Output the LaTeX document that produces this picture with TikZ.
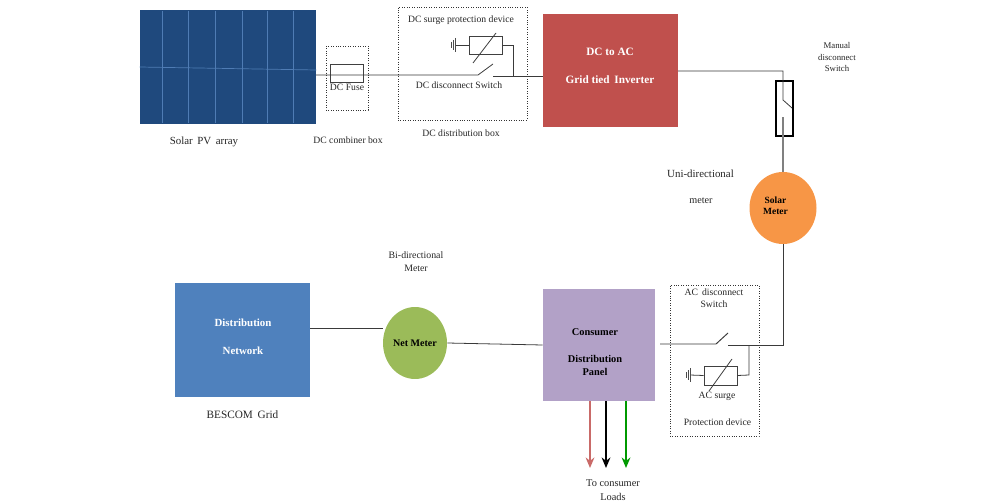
\documentclass[tikz,border=0pt]{standalone}
\usepackage{fontspec}
\setmainfont{Liberation Serif}
\definecolor{pvblue}{HTML}{1F497D}
\definecolor{pvline}{HTML}{4F7CB4}
\definecolor{invred}{HTML}{C0504D}
\definecolor{panelpurple}{HTML}{B2A1C7}
\definecolor{gridblue}{HTML}{4F81BD}
\definecolor{netgreen}{HTML}{9BBB59}
\definecolor{solarorange}{HTML}{F79646}
\definecolor{wire}{HTML}{3A3A3A}
\tikzset{
    blockbox/.style={draw=none, inner sep=0pt, text=white, font=\fontsize{6}{7}\selectfont\bfseries, align=center},
    meter/.style={ellipse, inner sep=0pt, font=\fontsize{5.7}{6.4}\selectfont\bfseries, align=center},
    dashbox/.style={draw=black!80, densely dotted, inner sep=0pt},
    partbox/.style={draw=black!75, inner sep=0pt, line width=0.5pt},
    caption/.style={inner sep=0pt, text=black!85, font=\fontsize{5.5}{7}\selectfont, align=center},
    wireline/.style={draw=wire, line width=0.45pt},
    loadarrow/.style={-{Stealth[length=6pt,width=5pt]}, line width=0.9pt}
}
\usetikzlibrary{shapes.geometric, arrows.meta}
\begin{document}
\begin{tikzpicture}[x=0.02cm, y=-0.02cm]
    \useasboundingbox (0,0) rectangle (1000,500);

    % PV array
    \node[blockbox, fill=pvblue, minimum width=3.52cm, minimum height=2.28cm] (pv) at (228,67) {};
    \foreach \px in {162,188,215,242,267,293} {
        \draw[pvline, line width=0.4pt] (\px,11) -- (\px,123);
    }
    \draw[pvline, line width=0.4pt] (pv.west) -- (pv.east |- 0,70);
    \node[caption, font=\fontsize{6.2}{7}\selectfont] (pvlabel) at (204,142) {Solar\, PV\, array};

    % DC side boxes
    \node[dashbox, minimum width=0.84cm, minimum height=1.28cm] (combiner) at (347,78) {};
    \node[partbox, minimum width=0.66cm, minimum height=0.36cm] (fuse) at (346.5,73) {};
    \node[caption] (fuselabel) at (347,87) {DC Fuse};
    \node[caption] (combinerlabel) at (348,140) {DC combiner box};
    \node[dashbox, minimum width=2.58cm, minimum height=2.26cm] (dcbox) at (462.5,63.5) {};
    \node[caption] (dcsurgelabel) at (461,20) {DC surge protection device};
    \node[caption] (dcswitchlabel) at (459,85) {DC disconnect Switch};
    \node[caption] (dcboxlabel) at (461,133) {DC distribution box};
    \node[partbox, minimum width=0.66cm, minimum height=0.36cm] (dcsurge) at (485.5,45) {};

    % inverter
    \node[blockbox, fill=invred, minimum width=2.7cm, minimum height=2.26cm] (inverter) at (610.5,70.5) {};
    \node[inner sep=0pt, text=white, font=\fontsize{6.4}{7}\selectfont\bfseries] (invtop) at (610,52) {DC to AC};
    \node[inner sep=0pt, text=white, font=\fontsize{6.4}{7}\selectfont\bfseries] (invbottom) at (610,80) {Grid tied\, Inverter};

    % manual switch and solar meter
    \node[draw=black, line width=0.7pt, inner sep=0pt, minimum width=0.34cm, minimum height=1.1cm] (manual) at (784.5,108.5) {};
    \node[caption, font=\fontsize{5}{6.4}\selectfont] (manuallabel) at (837,57) {Manual\\disconnect\\Switch};
    \node[meter, fill=solarorange, minimum width=1.34cm, minimum height=1.44cm] (solar) at (783,208) {};
    \node[inner sep=0pt, font=\fontsize{5.4}{6.4}\selectfont\bfseries, align=center] (solarlabel) at (775.5,206) {Solar\\Meter};
    \node[caption, font=\fontsize{6.2}{7}\selectfont] (unilabel) at (700.5,174) {Uni-directional};
    \node[caption, font=\fontsize{5.8}{7}\selectfont] (meterlabel) at (701,200.5) {meter};

    % lower row
    \node[blockbox, fill=gridblue, minimum width=2.7cm, minimum height=2.28cm] (network) at (242.5,340) {};
    \node[inner sep=0pt, text=white, font=\fontsize{6.2}{7}\selectfont\bfseries] (nettop) at (243,323) {Distribution};
    \node[inner sep=0pt, text=white, font=\fontsize{6.2}{7}\selectfont\bfseries] (netbottom) at (243,351) {Network};
    \node[caption, font=\fontsize{6.4}{7}\selectfont] (gridlabel) at (242.5,415) {BESCOM\, Grid};
    \node[meter, fill=netgreen, minimum width=1.28cm, minimum height=1.44cm] (net) at (415,343) {Net Meter};
    \node[caption, font=\fontsize{5.6}{7.4}\selectfont] (bilabel) at (416,262) {Bi-directional\\Meter};
    \node[blockbox, fill=panelpurple, minimum width=2.24cm, minimum height=2.24cm] (panel) at (599,345) {};
    \node[inner sep=0pt, font=\fontsize{5.9}{7.6}\selectfont\bfseries, align=center] (panellabel) at (595,352) {Consumer\\[8pt]Distribution\\Panel};

    % AC side
    \node[dashbox, minimum width=1.78cm, minimum height=3.02cm] (acbox) at (714.5,360.5) {};
    \node[caption] (acswitchlabel) at (714,298.5) {AC\, disconnect\\Switch};
    \node[partbox, minimum width=0.66cm, minimum height=0.38cm] (acsurge) at (720.5,375.5) {};
    \node[caption] (acsurgelabel) at (717,396) {AC surge};
    \node[caption] (aclabel) at (717.5,422) {Protection device};

    \node[caption, font=\fontsize{5.9}{8}\selectfont] (loadlabel) at (613,490) {To consumer\\Loads};

    % free ends of the wires
    \coordinate (pvout) at (316,75);
    \coordinate (dcopen) at (478,75);
    \coordinate (dcblade) at (493,64);
    \coordinate (dcclose) at (493,76);
    \coordinate (dcjoin) at (513,76);
    \coordinate (dcturn) at (513,45);
    \coordinate (invout) at (678,71);
    \coordinate (manturn) at (783,71);
    \coordinate (manopen) at (783,100);
    \coordinate (manblade) at (792,108);
    \coordinate (manclose) at (783,117);
    \coordinate (acstart) at (660,344);
    \coordinate (acopen) at (716,344);
    \coordinate (acblade) at (728,333);
    \coordinate (acclose) at (728,345);
    \coordinate (acjoin) at (749,345);
    \coordinate (acturn) at (783,345);
    \coordinate (acdrop) at (749,375);
    \coordinate (dcgnd) at (455,45);
    \coordinate (acgnd) at (690,375);

    % wires
    \draw[wireline] (pvout) -- (dcopen) -- (dcblade);
    \draw[wireline] (dcclose) -- (inverter.west |- dcclose);
    \draw[wireline] (dcjoin) -- (dcturn) -- (dcsurge.east);
    \draw[wireline] (dcsurge.west) -- (dcgnd);
    \draw[wireline] (invout) -- (manturn) -- (manopen) -- (manblade);
    \draw[wireline, draw=black!50, line width=0.6pt] (manclose) -- (solar.north);
    \draw[wireline] (solar.south) -- (acturn) -- (acclose);
    \draw[wireline, line width=0.55pt] (acstart) -- (acopen) -- (acblade);
    \draw[wireline] (acjoin) -- (acdrop) -- (acsurge.east);
    \draw[wireline] (acsurge.west) -- (acgnd);
    \draw[wireline] (network.east |- 0,328) -- (net.west |- 0,328);
    \draw[wireline] (net.east) -- (panel.west);

    % slashes through the surge devices
    \draw[wireline] ([shift={(-12.5,18)}]dcsurge.center) -- ([shift={(10.5,-12)}]dcsurge.center);
    \draw[wireline] ([shift={(-11.5,15.5)}]acsurge.center) -- ([shift={(11.5,-16.5)}]acsurge.center);

    % earth marks
    \foreach \gnd in {dcgnd, acgnd} {
        \draw[black!70, line width=0.35pt] ([shift={(0,-7)}]\gnd) -- ([shift={(0,7)}]\gnd);
        \draw[black!70, line width=0.35pt] ([shift={(-2,-5)}]\gnd) -- ([shift={(-2,5)}]\gnd);
        \draw[black!70, line width=0.35pt] ([shift={(-4,-3)}]\gnd) -- ([shift={(-4,3)}]\gnd);
    }

    % load arrows
    \coordinate (loadR) at (590,468);
    \coordinate (loadB) at (606,468);
    \coordinate (loadG) at (626,468);
    \draw[loadarrow, draw=invred!85, fill=invred!85] (panel.south -| loadR) -- (loadR);
    \draw[loadarrow, black] (panel.south -| loadB) -- (loadB);
    \draw[loadarrow, draw=green!60!black, fill=green!60!black] (panel.south -| loadG) -- (loadG);
\end{tikzpicture}
\end{document}
